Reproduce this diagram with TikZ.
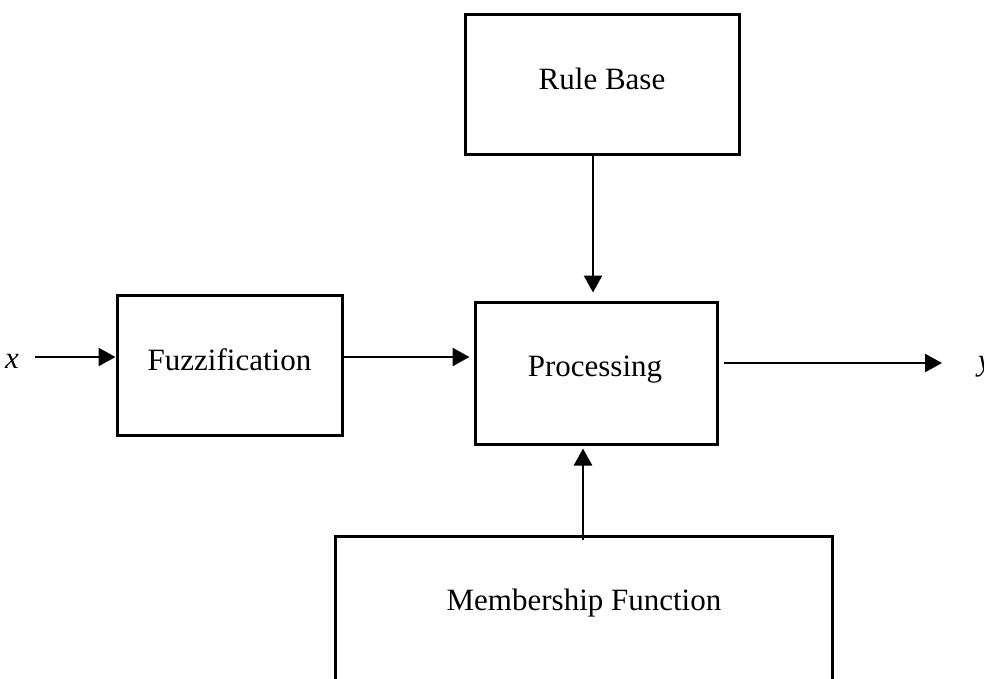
\documentclass[tikz,border=0pt]{standalone}
\usepackage{fontspec}
\setmainfont{Liberation Serif}
\usetikzlibrary{arrows.meta}

\begin{document}
\begin{tikzpicture}[x=1pt,y=-1pt,
  blockbox/.style={draw=black,line width=3pt,rectangle,inner sep=0pt},
  blocktext/.style={anchor=base,inner sep=0pt,font=\fontsize{31}{37}\selectfont},
  arr/.style={draw=black,line width=2.6pt,-{Triangle[length=17pt,width=18pt]}}]

  % canvas
  \fill[white] (0,0) rectangle (984,678);
  \useasboundingbox (0,0) rectangle (984,678);
  \clip (0,0) rectangle (984,678);

  % blocks
  \node[blockbox,minimum width=274pt,minimum height=140pt] (rule) at (602,84) {};
  \node[blockbox,minimum width=225pt,minimum height=140pt] (fuzz) at (229.5,365) {};
  \node[blockbox,minimum width=242pt,minimum height=142pt] (proc) at (596,373) {};
  \node[blockbox,minimum width=497pt,minimum height=154pt] (memb) at (583.5,613) {};

  % block captions
  \node[blocktext] (ruleT) at (602,89) {Rule Base};
  \node[blocktext] (fuzzT) at (229.5,370) {Fuzzification};
  \node[blocktext] (procT) at (595,376) {Processing};
  \node[blocktext] (membT) at (584,610) {Membership Function};

  % input and output signals
  \coordinate (xin) at (35,357);
  \coordinate (yout) at (942,363);
  \node[blocktext] (xlab) at (12,368) {\textit{x}};
  \node[blocktext] (ylab) at (985,370) {\textit{y}};

  % connectors
  \draw[arr] (xin) -- (xin -| fuzz.west);
  \draw[arr,shorten >=4pt] ([yshift=8pt]fuzz.east) -- ([yshift=16pt]proc.west);
  \draw[arr,shorten >=8pt] ([xshift=-9pt]rule.south) -- ([xshift=-3pt]proc.north);
  \draw[arr,shorten >=3pt] ([xshift=-0.5pt,yshift=-5pt]memb.north) -- ([xshift=-13pt]proc.south);
  \draw[arr] ([xshift=5pt,yshift=10pt]proc.east) -- (yout);
\end{tikzpicture}
\end{document}
